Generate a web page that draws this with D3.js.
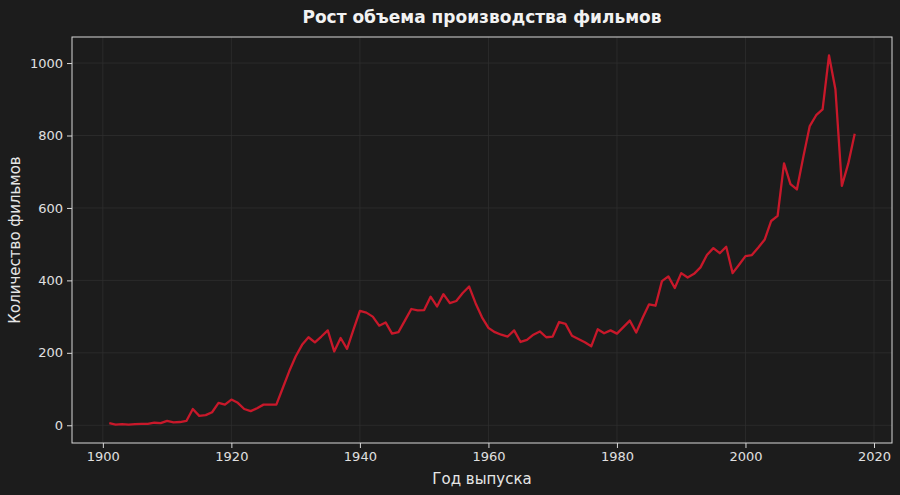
<!DOCTYPE html>
<html><head><meta charset="utf-8">
<script src="https://cdn.jsdelivr.net/npm/d3@7"></script>
<style>
html,body{margin:0;padding:0;background:#1c1c1c;}
svg{display:block;font-family:"DejaVu Sans",sans-serif;}
</style></head>
<body><svg id="chart" width="900" height="495"></svg>
<script>
const years = d3.range(1901, 2018);
const counts = [
  6, 2, 3, 2, 3, 4, 4, 7, 6, 12,
  8, 9, 12, 45, 26, 28, 36, 62, 57, 71,
  62, 45, 39, 47, 57, 57, 57, 103, 149, 190,
  222, 243, 229, 245, 262, 204, 241, 211, 264, 316,
  311, 300, 275, 284, 253, 257, 289, 321, 317, 318,
  355, 328, 362, 337, 343, 365, 383, 337, 298, 269,
  257, 250, 245, 262, 230, 236, 250, 259, 243, 245,
  285, 280, 247, 238, 229, 218, 265, 254, 262, 253,
  271, 289, 256, 297, 334, 330, 398, 411, 379, 420,
  408, 418, 436, 470, 489, 475, 493, 420, 443, 467,
  470, 491, 513, 564, 578, 723, 666, 651, 741, 826,
  856, 872, 1021, 927, 661, 723, 805
];
const xTicks = [1900, 1920, 1940, 1960, 1980, 2000, 2020];
const yTicks = [0, 200, 400, 600, 800, 1000];
const title = "Рост объема производства фильмов";
const xLabel = "Год выпуска";
const yLabel = "Количество фильмов";

const data = years.map((y, i) => ({year: y, count: counts[i]}));
const svg = d3.select("#chart");
const L = 72, R = 892, T = 37, B = 443;

const [x0, x1] = d3.extent(years);
const xp = (x1 - x0) * 0.05;
const [y0, y1] = d3.extent(counts);
const yp = (y1 - y0) * 0.05;
const x = d3.scaleLinear().domain([x0 - xp, x1 + xp]).range([L, R]);
const y = d3.scaleLinear().domain([y0 - yp, y1 + yp]).range([B, T]);

svg.append("rect").attr("x",0).attr("y",0).attr("width",900).attr("height",495).attr("fill","#1c1c1c");
svg.append("rect").attr("x",L).attr("y",T).attr("width",R-L).attr("height",B-T).attr("fill","#1c1c1c");

// grid
const g = svg.append("g");
g.selectAll(".gx").data(xTicks).join("line")
  .attr("x1", d=>x(d)).attr("x2", d=>x(d)).attr("y1", T).attr("y2", B)
  .attr("stroke","#2f2f2f").attr("stroke-width",0.8);
g.selectAll(".gy").data(yTicks).join("line")
  .attr("x1", L).attr("x2", R).attr("y1", d=>y(d)).attr("y2", d=>y(d))
  .attr("stroke","#2f2f2f").attr("stroke-width",0.8);

// line
svg.append("path").datum(data)
  .attr("fill","none").attr("stroke","#c8182a").attr("stroke-width",2.3)
  .attr("stroke-linejoin","round")
  .attr("d", d3.line().x(d=>x(d.year)).y(d=>y(d.count)));

// frame
svg.append("rect").attr("x",L).attr("y",T).attr("width",R-L).attr("height",B-T)
  .attr("fill","none").attr("stroke","#d8d8d8").attr("stroke-width",1);

// axes
const xAxis = svg.append("g").attr("transform",`translate(0,${B})`)
  .call(d3.axisBottom(x).tickValues(xTicks).tickFormat(d3.format("d")).tickSize(5).tickPadding(4));
const yAxis = svg.append("g").attr("transform",`translate(${L},0)`)
  .call(d3.axisLeft(y).tickValues(yTicks).tickFormat(d3.format("d")).tickSize(5).tickPadding(4));
[xAxis, yAxis].forEach(a => {
  a.select(".domain").remove();
  a.selectAll(".tick line").attr("stroke","#d8d8d8");
  a.selectAll(".tick text").attr("fill","#e0e0e0").style("font-size","13px").style("font-family","DejaVu Sans, sans-serif");
});

svg.append("text").attr("x",(L+R)/2).attr("y",23).attr("text-anchor","middle")
  .attr("fill","#f2f2f2").style("font-size","17px").style("font-weight","bold").text(title);
svg.append("text").attr("x",(L+R)/2).attr("y",484).attr("text-anchor","middle")
  .attr("fill","#e6e6e6").style("font-size","15px").text(xLabel);
svg.append("text").attr("transform",`translate(20,${(T+B)/2}) rotate(-90)`).attr("text-anchor","middle")
  .attr("fill","#e6e6e6").style("font-size","15px").text(yLabel);
</script></body></html>
